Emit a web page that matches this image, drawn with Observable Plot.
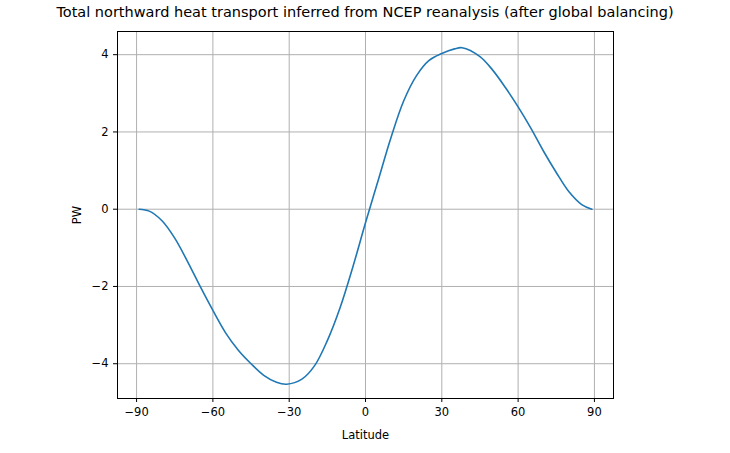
<!DOCTYPE html>
<html><head><meta charset="utf-8">
<script src="https://cdn.jsdelivr.net/npm/d3@7"></script>
<script src="https://cdn.jsdelivr.net/npm/@observablehq/plot@0.6"></script>
<style>
body{margin:0;background:#fff;font-family:"DejaVu Sans",sans-serif;}
#title{height:22px;line-height:24px;text-align:center;font-size:14.5px;color:#000;white-space:nowrap;}
</style></head><body>
<div id="title">Total northward heat transport inferred from NCEP reanalysis (after global balancing)</div>
<div id="chart"></div>
<script>
const lat = [-89,-85,-80,-75,-70,-65,-60,-55,-50,-45,-40,-35,-31,-25,-20,-15,-10,-5,0,5,10,15,20,25,30,35,38,45,50,55,60,65,70,75,80,85,89];
const pw  = [0,-0.05,-0.3,-0.75,-1.35,-2.0,-2.62,-3.2,-3.65,-4.0,-4.3,-4.48,-4.53,-4.4,-4.05,-3.4,-2.55,-1.5,-0.35,0.75,1.85,2.8,3.45,3.85,4.03,4.15,4.18,3.95,3.6,3.15,2.65,2.1,1.5,0.95,0.45,0.12,0];
const xTicks = [-90,-60,-30,0,30,60,90];
const yTicks = [-4,-2,0,2,4];
const data = lat.map((d,i)=>({lat:d, pw:pw[i]}));

const chart = Plot.plot({
  width: 730, height: 431,
  marginLeft: 117, marginRight: 117, marginTop: 9, marginBottom: 55,
  style: {fontFamily: "DejaVu Sans, sans-serif", fontSize: "11.5px", color: "#000"},
  x: {domain: [-97.5, 97.5], ticks: xTicks, label: "Latitude", labelArrow: "none", labelAnchor: "center", labelOffset: 40, tickSize: 4},
  y: {domain: [-4.9, 4.6], ticks: yTicks, label: "PW", labelArrow: "none", labelAnchor: "center", labelOffset: 45, tickSize: 4},
  marks: [
    Plot.gridX(xTicks, {stroke: "#b0b0b0", strokeOpacity: 1}),
    Plot.gridY(yTicks, {stroke: "#b0b0b0", strokeOpacity: 1}),
    Plot.line(data, {x: "lat", y: "pw", stroke: "#1f77b4", strokeWidth: 1.6, curve: "catmull-rom"}),
    Plot.frame({stroke: "#000"})
  ]
});
d3.select('#chart').append(() => chart);
</script>
</body></html>
